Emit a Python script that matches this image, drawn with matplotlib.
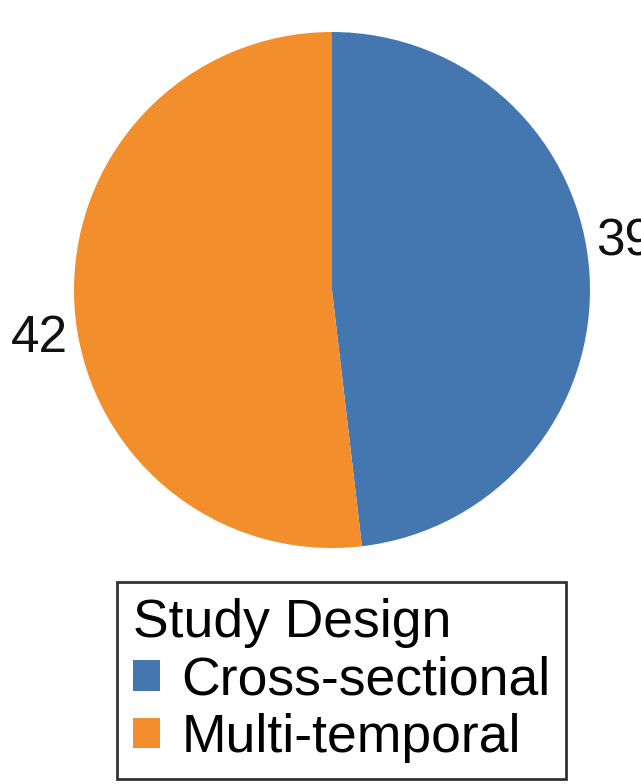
import numpy as np
import matplotlib
matplotlib.use('Agg')
import matplotlib.pyplot as plt
from matplotlib.patches import Patch

plt.rcParams['font.family'] = ['Liberation Sans', 'DejaVu Sans']

# data
designs = ['Cross-sectional', 'Multi-temporal']
counts = [39, 42]
colors = ['#4477b0', '#f28e2b']
legend_title = 'Study Design'

W, H = 641, 784
fig = plt.figure(figsize=(W / 100, H / 100), dpi=100)

# pie area: centre (332, 290) px, radius 258 px
cx, cy, r = 332, 290, 258
ax = fig.add_axes([(cx - r) / W, 1 - (cy + r) / H, 2 * r / W, 2 * r / H])
wedges, _ = ax.pie(counts, colors=colors, startangle=90, counterclock=False,
                   radius=1, wedgeprops=dict(linewidth=0))
ax.set_xlim(-1, 1)
ax.set_ylim(-1, 1)
ax.set_aspect('equal')
ax.axis('off')

# count labels just outside the rim
label_dist = 1.04
angle_shift = 7
for w, n in zip(wedges, counts):
    ang = np.deg2rad((w.theta1 + w.theta2) / 2 + angle_shift)
    x, y = label_dist * np.cos(ang), label_dist * np.sin(ang)
    ax.text(x, y, str(n), fontsize=37, ha='left' if x > 0 else 'right',
            va='center', color='#111111', clip_on=False)

handles = [Patch(facecolor=c, edgecolor='none') for c in colors]
leg = fig.legend(handles, designs, title=legend_title, loc='upper left',
                 bbox_to_anchor=(117 / W, 1 - 582 / H), fontsize=38.5,
                 title_fontsize=38.5, alignment='left', frameon=True,
                 fancybox=False, handlelength=0.5, handleheight=0.5,
                 handletextpad=0.4, labelspacing=0.14, borderpad=0.3,
                 borderaxespad=0)
leg.get_frame().set_edgecolor('black')
leg.get_frame().set_linewidth(2)

fig.savefig('out.png', dpi=100)
